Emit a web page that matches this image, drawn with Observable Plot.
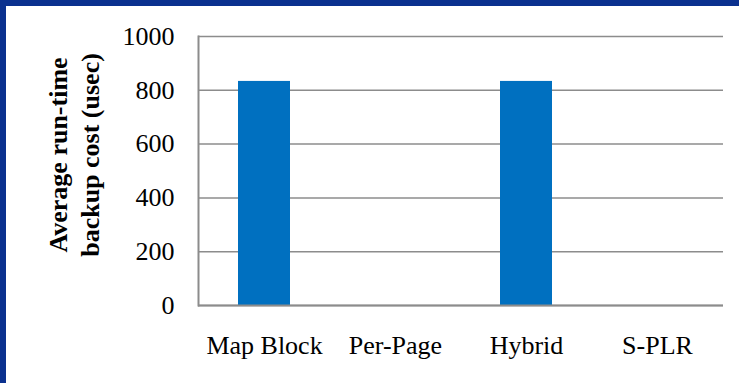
<!DOCTYPE html>
<html>
<head>
<meta charset="utf-8">
<script src="https://cdn.jsdelivr.net/npm/d3@7"></script>
<script src="https://cdn.jsdelivr.net/npm/@observablehq/plot@0.6"></script>
<style>
  html, body { margin: 0; padding: 0; background: #fff; overflow: hidden; }
  .edge { position: absolute; background: #0b318f; }
  #edge-top { left: 0; top: 0; width: 739px; height: 6px; }
  #edge-left { left: 0; top: 0; width: 6px; height: 383px; }
  #chart { position: absolute; left: 6px; top: 6px; width: 733px; height: 377px; }
  #chart svg { display: block; }
</style>
</head>
<body>
<div class="edge" id="edge-top"></div>
<div class="edge" id="edge-left"></div>
<div id="chart"></div>
<script>
// Backup schemes and their average run-time backup cost (usec)
const schemes = ["Map Block", "Per-Page", "Hybrid", "S-PLR"];
const backupCost = [833, 0, 833, 0];
const yTicks = [0, 200, 400, 600, 800, 1000];
const yTitle = ["Average run-time", "backup cost (usec)"];

const data = schemes.map((s, i) => ({scheme: s, cost: backupCost[i]}));
const gray = "#8c8c8c";
const serif = "'Liberation Serif', 'Times New Roman', serif";

const chart = Plot.plot({
  width: 733,
  height: 377,
  marginLeft: 192,
  marginRight: 16,
  marginTop: 30,
  marginBottom: 78,
  style: {fontFamily: serif, fontSize: "26px", color: "#000", background: "#fff"},
  x: {domain: schemes, paddingInner: 0.6, paddingOuter: 0.3, label: null, tickSize: 0, tickPadding: 30},
  y: {domain: [0, 1000], ticks: yTicks, tickFormat: d => String(d), label: null, tickSize: 0, tickPadding: 24},
  marks: [
    Plot.gridY(yTicks, {stroke: gray, strokeOpacity: 1, strokeWidth: 1.5}),
    Plot.barY(data, {x: "scheme", y: "cost", fill: "#0070c0"}),
    Plot.frame({anchor: "left", stroke: gray, strokeWidth: 2}),
    Plot.ruleY([0], {stroke: gray, strokeWidth: 2})
  ]
});

// Two-line rotated y-axis title
const title = d3.select(chart).append("text")
  .attr("transform", "translate(68,149) rotate(-90)")
  .attr("text-anchor", "middle")
  .attr("font-family", serif)
  .attr("font-weight", "bold")
  .attr("font-size", "26px")
  .attr("fill", "#000");
yTitle.forEach((line, i) => {
  title.append("tspan")
    .attr("x", 0)
    .attr("y", (i - 0.5) * 32)
    .attr("dy", "0.35em")
    .text(line);
});

document.getElementById("chart").appendChild(chart);
</script>
</body>
</html>
